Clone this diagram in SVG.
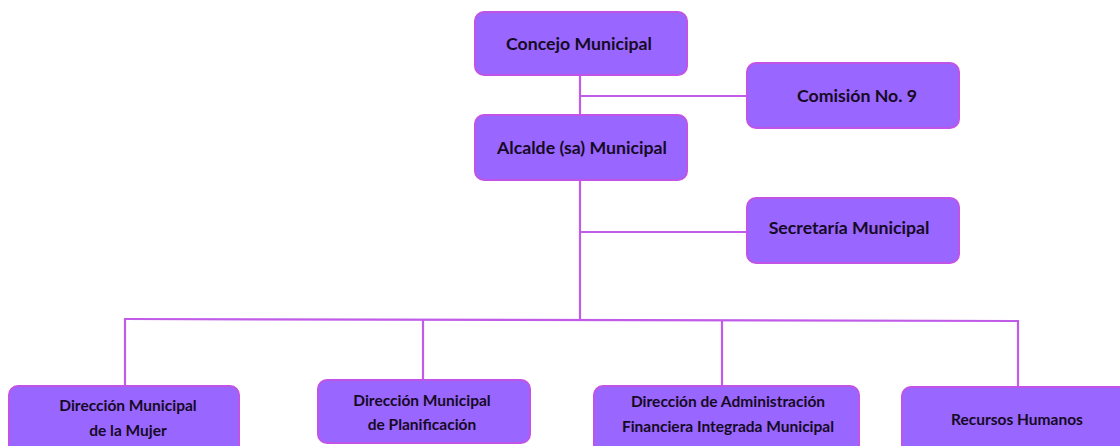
<svg xmlns="http://www.w3.org/2000/svg" width="1120" height="446" viewBox="0 0 1120 446">
<style>
.box{fill:#9966ff;stroke:#c153e6;stroke-width:2}
.lbl{font-family:Lato,"Open Sans",sans-serif;font-weight:bold;fill:#160a24;text-anchor:middle}
.big{font-size:17.7px}
.sm{font-size:15.5px}
.conn line{stroke:#c05ce8;stroke-width:2.2;fill:none}
</style>
<rect width="1120" height="446" fill="#ffffff"/>
<g id="connectors" class="conn">
<line x1="580" y1="75" x2="580" y2="115"/>
<line x1="580" y1="96" x2="747" y2="96"/>
<line x1="580" y1="180" x2="580" y2="320"/>
<line x1="580" y1="232" x2="747" y2="232"/>
<line x1="125" y1="319" x2="1018" y2="321"/>
<line x1="125" y1="318" x2="125" y2="386"/>
<line x1="423" y1="319" x2="423" y2="380"/>
<line x1="722" y1="320" x2="722" y2="386"/>
<line x1="1018" y1="320" x2="1018" y2="387"/>
</g>
<g id="concejo">
<rect class="box" x="475" y="12" width="212" height="63" rx="9"/>
<text class="lbl big" x="579" y="50">Concejo Municipal</text>
</g>
<g id="comision">
<rect class="box" x="747" y="63" width="212" height="65" rx="9"/>
<text class="lbl big" x="857" y="102">Comisión No. 9</text>
</g>
<g id="alcalde">
<rect class="box" x="475" y="115" width="212" height="65" rx="9"/>
<text class="lbl big" x="582" y="154">Alcalde (sa) Municipal</text>
</g>
<g id="secretaria">
<rect class="box" x="747" y="198" width="212" height="65" rx="9"/>
<text class="lbl big" x="849" y="234">Secretaría Municipal</text>
</g>
<g id="dir-mujer">
<rect class="box" x="9" y="386" width="230" height="70" rx="9"/>
<text class="lbl sm" x="128" y="411">Dirección Municipal</text>
<text class="lbl sm" x="128" y="436">de la Mujer</text>
</g>
<g id="dir-planificacion">
<rect class="box" x="318" y="380" width="212" height="63" rx="9"/>
<text class="lbl sm" x="422" y="406">Dirección Municipal</text>
<text class="lbl sm" x="422" y="430">de Planificación</text>
</g>
<g id="dir-afim">
<rect class="box" x="594" y="386" width="265" height="70" rx="9"/>
<text class="lbl sm" x="728" y="407">Dirección de Administración</text>
<text class="lbl sm" x="728" y="432">Financiera Integrada Municipal</text>
</g>
<g id="recursos-humanos">
<rect class="box" x="902" y="387" width="230" height="70" rx="9"/>
<text class="lbl sm" x="1017" y="425">Recursos Humanos</text>
</g>
</svg>
